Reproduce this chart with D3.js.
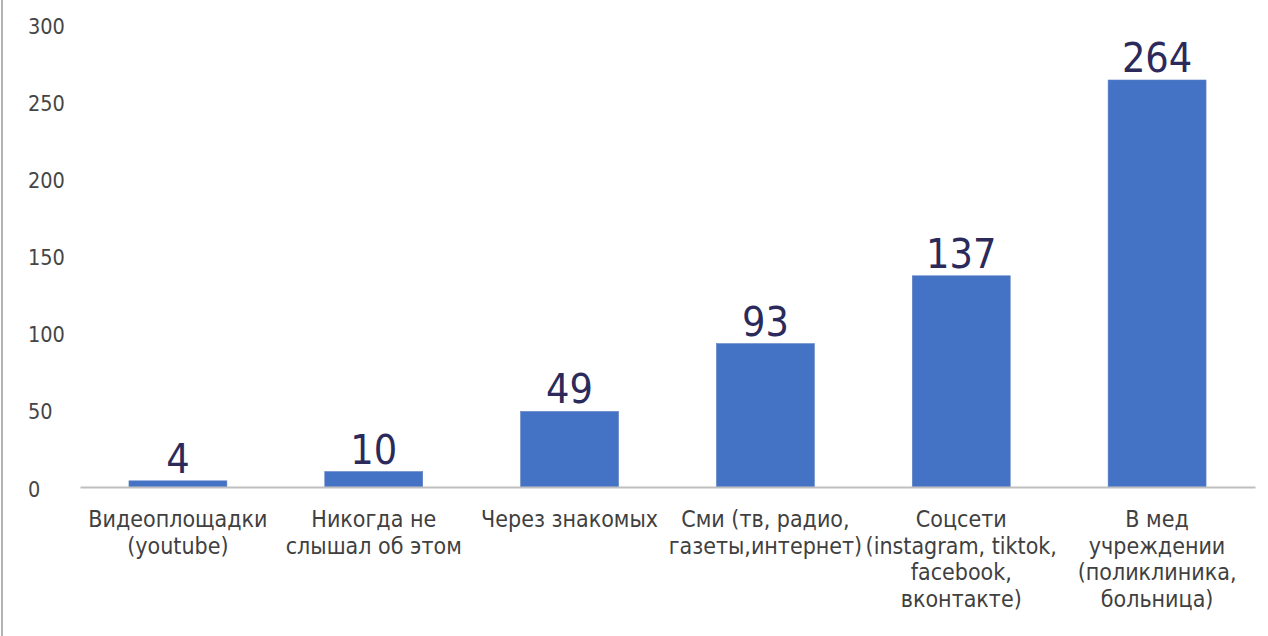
<!DOCTYPE html>
<html>
<head>
<meta charset="utf-8">
<script src="https://cdn.jsdelivr.net/npm/d3@7"></script>
<style>
  html, body { margin: 0; padding: 0; background: #ffffff; }
  svg { display: block; }
  text { font-family: "DejaVu Sans Condensed", "DejaVu Sans", sans-serif; }
</style>
</head>
<body>
<svg id="chart" width="1268" height="636"></svg>
<script>
// Where respondents heard about the topic (number of answers)
const categories = [
  ["Видеоплощадки", "(youtube)"],
  ["Никогда не", "слышал об этом"],
  ["Через знакомых"],
  ["Сми (тв, радио,", "газеты,интернет)"],
  ["Соцсети", "(instagram, tiktok,", "facebook,", "вконтакте)"],
  ["В мед", "учреждении", "(поликлиника,", "больница)"]
];
const values = [4, 10, 49, 93, 137, 264];
const yTicks = [0, 50, 100, 150, 200, 250, 300];

const svg = d3.select("#chart");
const W = 1268, H = 636;
const plot = { left: 80, right: 1255, top: 24.5, bottom: 487 };

// frame line on the left edge
svg.append("line")
  .attr("x1", 2).attr("x2", 2).attr("y1", 0).attr("y2", H)
  .attr("stroke", "#b4b4b4").attr("stroke-width", 2);

const x = d3.scaleBand()
  .domain(d3.range(categories.length))
  .range([plot.left, plot.right])
  .paddingInner(0.5).paddingOuter(0.25);

const y = d3.scaleLinear()
  .domain([0, 300])
  .range([plot.bottom, plot.top]);

// y tick labels (no axis line, no gridlines)
svg.append("g").selectAll("text")
  .data(yTicks)
  .join("text")
  .attr("x", 28)
  .attr("y", d => y(d) + 2)
  .attr("dy", "0.35em")
  .attr("text-anchor", "start")
  .attr("font-size", 21.5)
  .attr("fill", "#454545")
  .text(d => d3.format("d")(d));

// bars
svg.append("g").selectAll("rect")
  .data(values)
  .join("rect")
  .attr("x", (d, i) => x(i))
  .attr("width", x.bandwidth())
  .attr("y", d => y(d))
  .attr("height", d => y(0) - y(d))
  .attr("fill", "#4472c4")
  .attr("stroke", "#5b7fc4")
  .attr("stroke-width", 0.6);

// category axis
const xAxis = d3.axisBottom(x).tickSize(0).tickFormat("");
const gx = svg.append("g")
  .attr("transform", `translate(0,${y(0)})`)
  .call(xAxis);
gx.select(".domain").attr("stroke", "#bfbfbf").attr("stroke-width", 2);

// multi-line category labels
svg.append("g").selectAll("text")
  .data(categories)
  .join("text")
  .attr("x", (d, i) => x(i) + x.bandwidth() / 2)
  .attr("y", 527)
  .attr("text-anchor", "middle")
  .attr("font-size", 23)
  .attr("fill", "#404040")
  .each(function(lines) {
    const t = d3.select(this);
    lines.forEach((ln, k) => {
      t.append("tspan")
        .attr("x", t.attr("x"))
        .attr("dy", k === 0 ? 0 : 26.7)
        .text(ln);
    });
  });

// value labels above bars
svg.append("g").selectAll("text")
  .data(values)
  .join("text")
  .attr("x", (d, i) => x(i) + x.bandwidth() / 2)
  .attr("y", d => y(d) - 8)
  .attr("text-anchor", "middle")
  .attr("font-size", 41)
  .attr("fill", "#2b2a5a")
  .text(d => d);
</script>
</body>
</html>
